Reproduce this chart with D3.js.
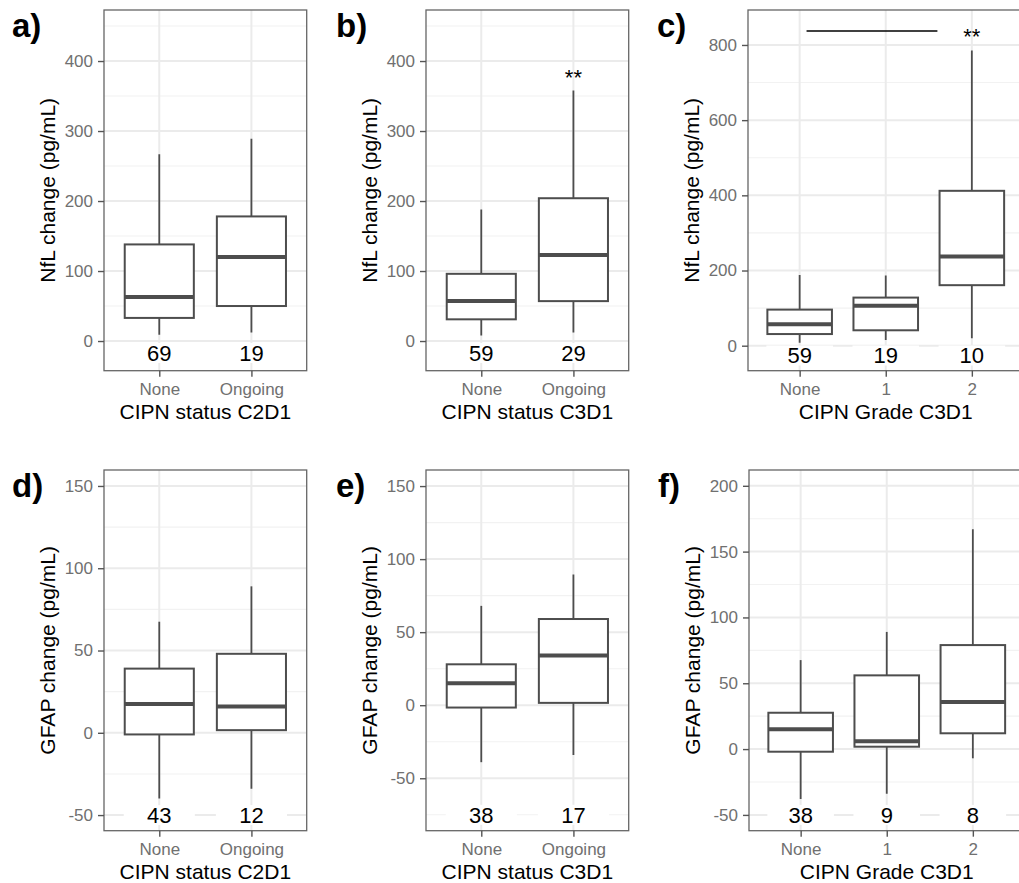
<!DOCTYPE html>
<html>
<head>
<meta charset="utf-8">
<script src="https://cdn.jsdelivr.net/npm/d3@7"></script>
<style>
  body { margin: 0; background: #fff; }
  svg { display: block; font-family: "Liberation Sans", Arial, sans-serif; }
</style>
</head>
<body>
<div id="chart"></div>
<script>
// categories
var catStatus = ['None', 'Ongoing'];
var catGrade = ['None', '1', '2'];

// box stats per group: [lower whisker, Q1, median, Q3, upper whisker]
var nflC2D1 = [[9, 33, 63, 138, 267], [12, 50, 120, 178, 289]];
var nflC3D1 = [[8, 31, 57, 96, 188], [12, 57, 123, 204, 358]];
var nflGrade = [[8, 31, 57, 96, 188], [15, 41, 106, 128, 187], [20, 161, 237, 412, 785]];
var gfapC2D1 = [[-40, -1, 17.5, 39, 67.5], [-34, 1.6, 16, 48, 89]];
var gfapC3D1 = [[-39, -1.6, 15, 28, 68], [-34, 1.6, 34, 59, 89.5]];
var gfapGrade = [[-38, -2, 15, 27.6, 67.6], [-34, 1.8, 6, 56, 89], [-7, 12, 35.7, 79, 167]];

// group sizes
var nC2D1nfl = [69, 19];
var nC3D1nfl = [59, 29];
var nGradeNfl = [59, 19, 10];
var nC2D1gfap = [43, 12];
var nC3D1gfap = [38, 17];
var nGradeGfap = [38, 9, 8];

// y tick values
var ticksNfl = [0, 100, 200, 300, 400];
var ticksNflGrade = [0, 200, 400, 600, 800];
var ticksGfap = [-50, 0, 50, 100, 150];
var ticksGfapGrade = [-50, 0, 50, 100, 150, 200];

var W = 1019, H = 883;
var boxColor = '#4d4d4d';

var panels = [
  {tag: 'a)', cats: catStatus, stats: nflC2D1, n: nC2D1nfl, nY: -17, ticks: ticksNfl, domain: [-42.4, 472.9],
   x0: 104, x1: 306.7, y0: 10, y1: 370.7, ytitle: 'NfL change (pg/mL)', xtitle: 'CIPN status C2D1', tagX: 12},
  {tag: 'b)', cats: catStatus, stats: nflC3D1, n: nC3D1nfl, nY: -17, ticks: ticksNfl, domain: [-42.4, 472.9],
   x0: 426, x1: 628.7, y0: 10, y1: 370.7, ytitle: 'NfL change (pg/mL)', xtitle: 'CIPN status C3D1', tagX: 336,
   star: {cat: 1, y: 384}},
  {tag: 'c)', cats: catGrade, stats: nflGrade, n: nGradeNfl, nY: -26, ticks: ticksNflGrade, domain: [-66.5, 893],
   x0: 748, x1: 1023.5, y0: 10, y1: 370.7, ytitle: 'NfL change (pg/mL)', xtitle: 'CIPN Grade C3D1', tagX: 657,
   star: {cat: 2, y: 837}, bracket: {from: 0.08, to: 1.6, y: 837}},
  {tag: 'd)', cats: catStatus, stats: gfapC2D1, n: nC2D1gfap, nY: -50, ticks: ticksGfap, domain: [-59.5, 159.7],
   x0: 104, x1: 306.7, y0: 470, y1: 830.7, ytitle: 'GFAP change (pg/mL)', xtitle: 'CIPN status C2D1', tagX: 12},
  {tag: 'e)', cats: catStatus, stats: gfapC3D1, n: nC3D1gfap, nY: -75, ticks: ticksGfap, domain: [-85.9, 161],
   x0: 426, x1: 628.7, y0: 470, y1: 830.7, ytitle: 'GFAP change (pg/mL)', xtitle: 'CIPN status C3D1', tagX: 336},
  {tag: 'f)', cats: catGrade, stats: gfapGrade, n: nGradeGfap, nY: -50, ticks: ticksGfapGrade, domain: [-62, 212],
   x0: 749, x1: 1024.5, y0: 470, y1: 830.7, ytitle: 'GFAP change (pg/mL)', xtitle: 'CIPN Grade C3D1', tagX: 658}
];

var svg = d3.select('#chart').append('svg')
  .attr('width', W)
  .attr('height', H);

panels.forEach(function(p, i) {
  var x = d3.scalePoint().domain(p.cats).range([p.x0, p.x1]).padding(0.6);
  var y = d3.scaleLinear().domain(p.domain).range([p.y1, p.y0]);
  var step = x.step();
  var bw = step * 0.75;

  var g = svg.append('g');
  var clipId = 'clip' + i;
  g.append('clipPath').attr('id', clipId)
    .append('rect')
    .attr('x', p.x0).attr('y', p.y0)
    .attr('width', p.x1 - p.x0).attr('height', p.y1 - p.y0);

  var plot = g.append('g').attr('clip-path', 'url(#' + clipId + ')');

  // minor grid, halfway between major ticks
  var minor = [];
  var d = p.ticks[1] - p.ticks[0];
  for (var k = 0; k < p.ticks.length + 1; k++) {
    var v = p.ticks[0] - d / 2 + k * d;
    if (v > p.domain[0] && v < p.domain[1]) minor.push(v);
  }
  plot.selectAll('.minor').data(minor).enter().append('line')
    .attr('x1', p.x0).attr('x2', p.x1)
    .attr('y1', function(v) { return y(v); })
    .attr('y2', function(v) { return y(v); })
    .attr('stroke', '#f2f2f2').attr('stroke-width', 1.1);

  // major grid
  plot.selectAll('.major').data(p.ticks).enter().append('line')
    .attr('x1', p.x0).attr('x2', p.x1)
    .attr('y1', function(v) { return y(v); })
    .attr('y2', function(v) { return y(v); })
    .attr('stroke', '#ebebeb').attr('stroke-width', 2);

  plot.selectAll('.vgrid').data(p.cats).enter().append('line')
    .attr('x1', function(c) { return x(c); })
    .attr('x2', function(c) { return x(c); })
    .attr('y1', p.y0).attr('y2', p.y1)
    .attr('stroke', '#ebebeb').attr('stroke-width', 2);

  // boxes
  var boxes = plot.selectAll('.box').data(p.stats).enter().append('g');

  boxes.append('line')
    .attr('x1', function(s, j) { return x(p.cats[j]); })
    .attr('x2', function(s, j) { return x(p.cats[j]); })
    .attr('y1', function(s) { return y(s[0]); })
    .attr('y2', function(s) { return y(s[1]); })
    .attr('stroke', boxColor).attr('stroke-width', 1.8);

  boxes.append('line')
    .attr('x1', function(s, j) { return x(p.cats[j]); })
    .attr('x2', function(s, j) { return x(p.cats[j]); })
    .attr('y1', function(s) { return y(s[3]); })
    .attr('y2', function(s) { return y(s[4]); })
    .attr('stroke', boxColor).attr('stroke-width', 1.8);

  boxes.append('rect')
    .attr('x', function(s, j) { return x(p.cats[j]) - bw / 2; })
    .attr('width', bw)
    .attr('y', function(s) { return y(s[3]); })
    .attr('height', function(s) { return y(s[1]) - y(s[3]); })
    .attr('fill', '#fff')
    .attr('stroke', boxColor).attr('stroke-width', 2);

  boxes.append('line')
    .attr('x1', function(s, j) { return x(p.cats[j]) - bw / 2; })
    .attr('x2', function(s, j) { return x(p.cats[j]) + bw / 2; })
    .attr('y1', function(s) { return y(s[2]); })
    .attr('y2', function(s) { return y(s[2]); })
    .attr('stroke', boxColor).attr('stroke-width', 4);

  // n labels with white background
  plot.selectAll('.nbg').data(p.n).enter().append('rect')
    .attr('x', function(v, j) { return x(p.cats[j]) - bw / 2 - 1; })
    .attr('width', bw + 2)
    .attr('y', y(p.nY) - 10)
    .attr('height', 20)
    .attr('fill', '#fff');

  plot.selectAll('.ntext').data(p.n).enter().append('text')
    .attr('x', function(v, j) { return x(p.cats[j]); })
    .attr('y', y(p.nY))
    .attr('dy', '0.36em')
    .attr('text-anchor', 'middle')
    .attr('font-size', '22px')
    .attr('fill', '#000')
    .text(function(v) { return v; });

  if (p.bracket) {
    plot.append('line')
      .attr('x1', x(p.cats[0]) + p.bracket.from * step)
      .attr('x2', x(p.cats[0]) + p.bracket.to * step)
      .attr('y1', y(p.bracket.y)).attr('y2', y(p.bracket.y))
      .attr('stroke', '#000').attr('stroke-width', 1.6);
  }
  if (p.star) {
    plot.append('text')
      .attr('x', x(p.cats[p.star.cat]))
      .attr('y', y(p.star.y))
      .attr('dy', '0.6em')
      .attr('text-anchor', 'middle')
      .attr('font-size', '22px')
      .attr('fill', '#000')
      .text('**');
  }

  // panel border
  g.append('rect')
    .attr('x', p.x0).attr('y', p.y0)
    .attr('width', p.x1 - p.x0).attr('height', p.y1 - p.y0)
    .attr('fill', 'none')
    .attr('stroke', '#666').attr('stroke-width', 1.3);

  // axes
  var fmt = function(v) { return String(v); };
  var yAxis = g.append('g')
    .attr('transform', 'translate(' + p.x0 + ',0)')
    .call(d3.axisLeft(y).tickValues(p.ticks).tickFormat(fmt).tickSize(6).tickPadding(5));
  var xAxis = g.append('g')
    .attr('transform', 'translate(0,' + p.y1 + ')')
    .call(d3.axisBottom(x).tickSize(6).tickPadding(6));

  [yAxis, xAxis].forEach(function(ax) {
    ax.select('.domain').remove();
    ax.selectAll('.tick line').attr('stroke', '#555').attr('stroke-width', 1.4);
    ax.selectAll('.tick text')
      .attr('fill', '#707070')
      .attr('font-size', '17px')
      .attr('font-family', '"Liberation Sans", Arial, sans-serif');
  });

  // titles
  g.append('text')
    .attr('x', (p.x0 + p.x1) / 2)
    .attr('y', p.y1 + 48.5)
    .attr('text-anchor', 'middle')
    .attr('font-size', '21px')
    .attr('fill', '#000')
    .text(p.xtitle);

  g.append('text')
    .attr('transform', 'translate(' + (p.x0 - 49) + ',' + ((p.y0 + p.y1) / 2) + ') rotate(-90)')
    .attr('text-anchor', 'middle')
    .attr('font-size', '21px')
    .attr('fill', '#000')
    .text(p.ytitle);

  g.append('text')
    .attr('x', p.tagX)
    .attr('y', p.y0 + 27)
    .attr('font-size', '33px')
    .attr('font-weight', 'bold')
    .attr('fill', '#000')
    .text(p.tag);
});
</script>
</body>
</html>
